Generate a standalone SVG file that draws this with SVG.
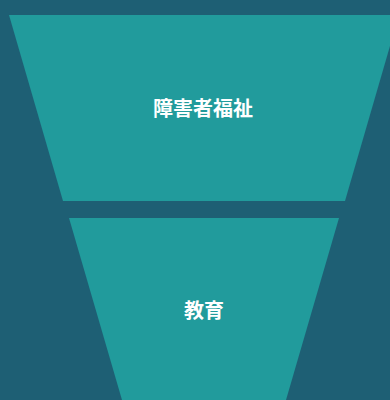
<svg xmlns="http://www.w3.org/2000/svg" width="390" height="400" viewBox="0 0 390 400">
<style>
.seg{fill:#219b9c;}
.lbl{fill:#ffffff;font-family:"Noto Sans CJK JP","Noto Sans CJK SC",sans-serif;font-size:20px;font-weight:bold;text-anchor:middle;}
</style>
<rect width="390" height="400" fill="#1e5f74"/>
<g id="connectors"></g>
<g id="node1">
<polygon class="seg" points="9,15 399,15 345,201 63,201"/>
<text class="lbl" x="203" y="116">障害者福祉</text>
</g>
<g id="node2">
<polygon class="seg" points="69,218 339,218 286,400 122,400"/>
<text class="lbl" x="204" y="318">教育</text>
</g>
</svg>
